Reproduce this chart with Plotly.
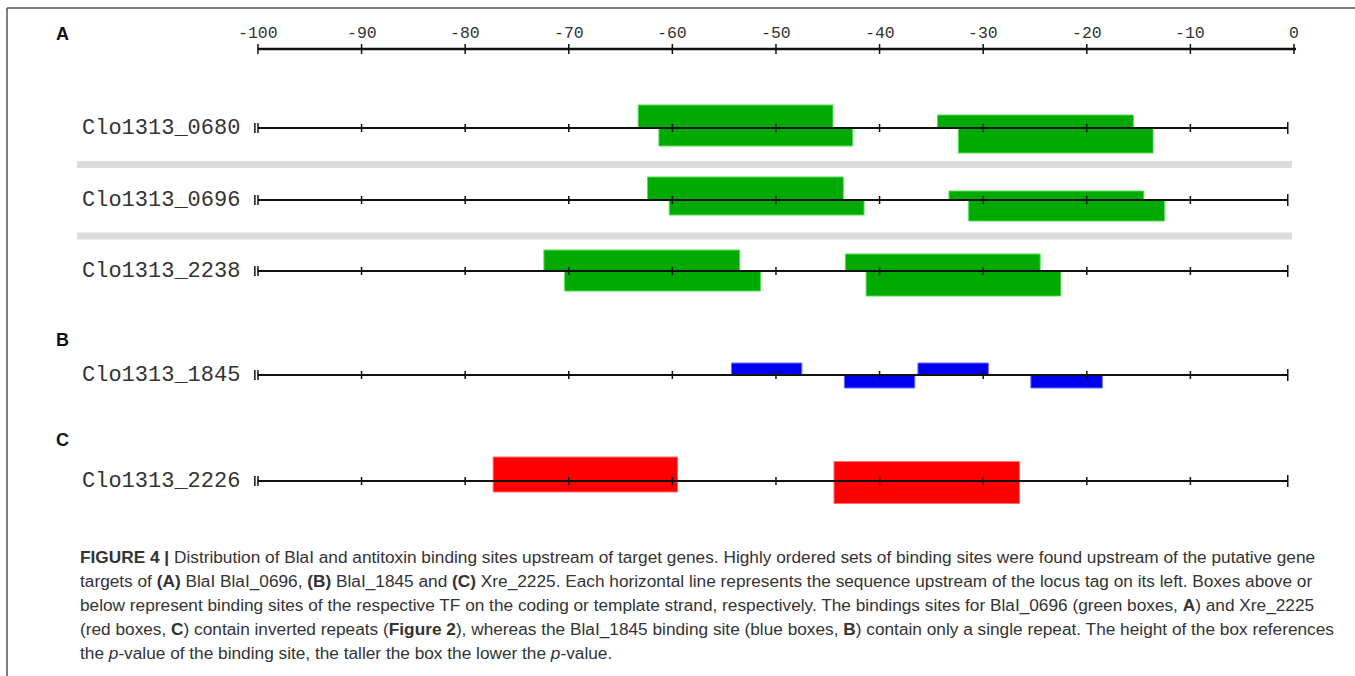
import plotly.graph_objects as go

# ---------------- data ----------------
genes = ["Clo1313_0680", "Clo1313_0696", "Clo1313_2238", "Clo1313_1845", "Clo1313_2226"]
panels = ["A", "A", "A", "B", "C"]
axis_ticks = [-100, -90, -80, -70, -60, -50, -40, -30, -20, -10, 0]

# binding sites: gene index, start, end, strand (+ above / - below), box height (p-value score)
site_gene = [0, 0, 0, 0,
             1, 1, 1, 1,
             2, 2, 2, 2,
             3, 3, 3, 3,
             4, 4, 4, 4]
site_start = [-63.3, -61.3, -34.4, -32.4,
              -62.4, -60.3, -33.3, -31.4,
              -72.4, -70.4, -43.3, -41.3,
              -54.3, -43.4, -36.3, -25.4,
              -77.3, -77.3, -44.4, -44.4]
site_end = [-44.5, -42.6, -15.5, -13.6,
            -43.5, -41.5, -14.5, -12.5,
            -53.5, -51.5, -24.5, -22.5,
            -47.5, -36.6, -29.5, -18.5,
            -59.5, -59.5, -26.5, -26.5]
site_strand = ["+", "-", "+", "-",
               "+", "-", "+", "-",
               "+", "-", "+", "-",
               "+", "-", "+", "-",
               "+", "-", "+", "-"]
site_height = [23, 18, 13, 25,
               23, 15, 9, 21,
               21, 20, 17, 25,
               12, 13, 12, 13,
               24, 11, 19.5, 22.5]

# ---------------- layout helpers ----------------
W, H = 1355, 676
row_y = [128, 200, 271, 375, 481]          # vertical position of each sequence line (px)
axis_y = 49
panel_colors = {"A": "#00aa00", "B": "#0000f0", "C": "#ff0000"}
panel_edge = {"A": "#55dd55", "B": "#6f6fff", "C": "#ff7070"}
X0, X1 = -124.9, 5.89


def px(x):
    return x / W


def py(y):
    return 1 - y / H


fig = go.Figure()

# boxes (drawn first, lines on top)
for p in ["A", "B", "C"]:
    xs, ys = [], []
    for g, s, e, st, h in zip(site_gene, site_start, site_end, site_strand, site_height):
        if panels[g] != p:
            continue
        y0 = row_y[g]
        y1 = y0 - h if st == "+" else y0 + h
        xs += [s, e, e, s, s, None]
        ys += [y0, y0, y1, y1, y0, None]
    fig.add_trace(go.Scatter(x=xs, y=ys, mode="lines", fill="toself",
                             fillcolor=panel_colors[p],
                             line=dict(color=panel_edge[p], width=1),
                             hoverinfo="skip"))

# sequence lines with ticks
inner_ticks = axis_ticks[1:-1]
for i, g in enumerate(genes):
    y = row_y[i]
    fig.add_trace(go.Scatter(x=[axis_ticks[0], -0.6], y=[y, y], mode="lines",
                             line=dict(color="#111", width=2), hoverinfo="skip"))
    tx, ty = [], []
    for t in inner_ticks:
        tx += [t, t, None]
        ty += [y - 4, y + 4, None]
    for t in [axis_ticks[0] - 0.3, axis_ticks[0]]:
        tx += [t, t, None]
        ty += [y - 5, y + 5, None]
    tx += [-0.6, -0.6, None]
    ty += [y - 6, y + 6, None]
    fig.add_trace(go.Scatter(x=tx, y=ty, mode="lines",
                             line=dict(color="#111", width=1.5), hoverinfo="skip"))
    fig.add_annotation(x=-101.5, y=y, xref="x", yref="y", text=g, showarrow=False,
                       xanchor="right", yanchor="middle",
                       font=dict(family="Courier New, Liberation Mono, monospace", size=22, color="#333"))

# top ruler
fig.add_trace(go.Scatter(x=[axis_ticks[0], axis_ticks[-1] + 0.2], y=[axis_y, axis_y], mode="lines",
                         line=dict(color="#111", width=2.5), hoverinfo="skip"))
tx, ty = [], []
for t in axis_ticks:
    tx += [t, t, None]
    ty += [axis_y - 5, axis_y + 5, None]
fig.add_trace(go.Scatter(x=tx, y=ty, mode="lines", line=dict(color="#111", width=1.5),
                         hoverinfo="skip"))
for t in axis_ticks:
    fig.add_annotation(x=t, y=33, xref="x", yref="y", text=str(t), showarrow=False,
                       xanchor="center", yanchor="middle",
                       font=dict(family="Courier New, Liberation Mono, monospace", size=16.5, color="#333"))

# panel letters
for letter, yy in [("A", 34), ("B", 340), ("C", 440)]:
    fig.add_annotation(x=px(62), y=py(yy), xref="paper", yref="paper", text=f"<b>{letter}</b>",
                       showarrow=False, xanchor="center", yanchor="middle",
                       font=dict(family="Liberation Sans, Arial, sans-serif", size=18, color="#111"))

# separators and frame
shapes = []
for yy in [164.5, 236]:
    shapes.append(dict(type="rect", xref="paper", yref="paper", x0=px(77), x1=px(1292),
                       y0=py(yy - 3.5), y1=py(yy + 3.5), fillcolor="#dcdcdc", line=dict(width=0),
                       layer="below"))
shapes.append(dict(type="line", xref="paper", yref="paper", x0=px(7), x1=1, y0=py(8), y1=py(8),
                   line=dict(color="#555", width=1.5)))
shapes.append(dict(type="line", xref="paper", yref="paper", x0=px(7), x1=px(7), y0=py(8), y1=0,
                   line=dict(color="#555", width=1.5)))

caption = [
    "<b>FIGURE 4 |</b> Distribution of BlaI and antitoxin binding sites upstream of target genes. Highly ordered sets of binding sites were found upstream of the putative gene",
    "targets of <b>(A)</b> BlaI BlaI_0696, <b>(B)</b> BlaI_1845 and <b>(C)</b> Xre_2225. Each horizontal line represents the sequence upstream of the locus tag on its left. Boxes above or",
    "below represent binding sites of the respective TF on the coding or template strand, respectively. The bindings sites for BlaI_0696 (green boxes, <b>A</b>) and Xre_2225",
    "(red boxes, <b>C</b>) contain inverted repeats (<b>Figure 2</b>), whereas the BlaI_1845 binding site (blue boxes, <b>B</b>) contain only a single repeat. The height of the box references",
    "the <i>p</i>-value of the binding site, the taller the box the lower the <i>p</i>-value.",
]
for i, line in enumerate(caption):
    fig.add_annotation(x=px(78), y=py(557 + i * 24), xref="paper", yref="paper", text=line,
                       showarrow=False, xanchor="left", yanchor="middle",
                       font=dict(family="Liberation Sans Narrow, Arial Narrow, Liberation Sans, sans-serif",
                                 size=17.25, color="#333"))

fig.update_layout(
    width=W, height=H, margin=dict(l=0, r=0, t=0, b=0),
    paper_bgcolor="white", plot_bgcolor="white", showlegend=False,
    xaxis=dict(visible=False, range=[X0, X1], fixedrange=True),
    yaxis=dict(visible=False, range=[H, 0], fixedrange=True),
    shapes=shapes,
)

fig.write_html("out.html", config={"displayModeBar": False},
               post_script="document.body.style.margin='0';document.body.style.overflow='hidden';")
